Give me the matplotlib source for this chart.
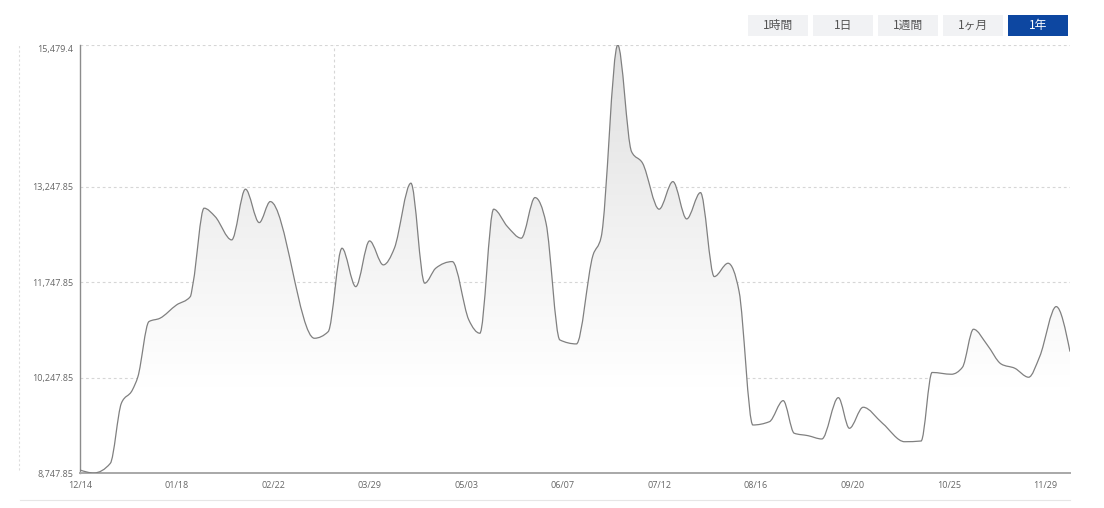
import matplotlib
matplotlib.use('Agg')
import matplotlib.pyplot as plt
import numpy as np
from matplotlib.path import Path
from matplotlib.patches import PathPatch, Rectangle
from matplotlib.lines import Line2D
from matplotlib.colors import LinearSegmentedColormap

plt.rcParams['font.family'] = ['Open Sans', 'Noto Sans CJK JP', 'DejaVu Sans']

# days since 12/14, index value
days = [0, 5, 11, 15, 19, 21, 25, 29, 35, 40, 41, 45, 49, 55, 60, 65, 69,
        85, 90, 95, 100, 105, 110, 114, 120, 125, 129, 135, 141, 145,
        150, 155, 160, 165, 169, 174, 180, 186, 189, 195, 200, 204, 210,
        215, 220, 225, 230, 235, 239, 244, 250, 255, 259, 264, 269, 275,
        279, 284, 291, 299, 305, 309, 316, 320, 324, 329, 334, 339, 344,
        348, 354, 359]
values = [8795, 8747.85, 8900, 9845, 10054, 10263, 11129, 11182, 11391, 11522,
          11733, 12913, 12781, 12414, 13212, 12686, 13017,
          10867, 10971, 12283, 11679, 12398, 12021, 12283, 13306, 11733,
          11969, 12073, 11155, 10946,
          12897, 12623, 12441, 13080, 12677, 10841, 10778, 12170, 12461,
          15479.4, 13803, 13621, 12897,
          13331, 12744, 13158, 11837, 12047, 11604, 9503, 9555, 9886, 9373,
          9335, 9283, 9933,
          9451, 9782, 9530, 9240, 9251, 10329, 10301, 10411, 11009, 10762,
          10463, 10395, 10254,
          10578, 11365, 10657]

y_ticks = [8747.85, 10247.85, 11747.85, 13247.85, 15479.4]
y_labels = ['8,747.85', '10,247.85', '11,747.85', '13,247.85', '15,479.4']
x_ticks = [0, 35, 70, 105, 140, 175, 210, 245, 280, 315, 350]
x_labels = ['12/14', '01/18', '02/22', '03/29', '05/03', '06/07', '07/12',
            '08/16', '09/20', '10/25', '11/29']
ranges = ['1時間', '1日', '1週間', '1ヶ月', '1年']
selected = '1年'
crosshair_day = 92

W, H = 1104, 508
fig = plt.figure(figsize=(W / 100, H / 100), dpi=100)
ax = fig.add_axes([80 / W, 1 - 473 / H, 990 / W, 428 / H])

ymin, ymax = y_ticks[0], y_ticks[-1]
xmax = days[-1]


def monotone_path(xs, ys):
    # monotone cubic (like d3 curveMonotoneX) drawn as bezier segments
    x = np.asarray(xs, float)
    y = np.asarray(ys, float)
    h = np.diff(x)
    s = np.diff(y) / h
    n = len(x)
    t = np.zeros(n)
    for i in range(1, n - 1):
        p = (s[i - 1] * h[i] + s[i] * h[i - 1]) / (h[i - 1] + h[i])
        t[i] = (np.sign(s[i - 1]) + np.sign(s[i])) * min(
            abs(s[i - 1]), abs(s[i]), 0.5 * abs(p))
    t[0] = (3 * s[0] - t[1]) / 2
    t[-1] = (3 * s[-1] - t[-2]) / 2
    verts = [(x[0], y[0])]
    codes = [Path.MOVETO]
    for i in range(n - 1):
        d = h[i] / 3
        verts += [(x[i] + d, y[i] + t[i] * d),
                  (x[i + 1] - d, y[i + 1] - t[i + 1] * d),
                  (x[i + 1], y[i + 1])]
        codes += [Path.CURVE4] * 3
    return verts, codes


verts, codes = monotone_path(days, values)

# gradient area under the line
fill_verts = verts + [(days[-1], ymin), (days[0], ymin), verts[0]]
fill_codes = codes + [Path.LINETO, Path.LINETO, Path.CLOSEPOLY]
fill_patch = PathPatch(Path(fill_verts, fill_codes), facecolor='none',
                       edgecolor='none')
ax.add_patch(fill_patch)
cmap = LinearSegmentedColormap.from_list(
    'g', [(0, '#ffffff'), (0.2, '#ffffff'), (0.5, '#f4f4f4'), (1, '#e0e0e0')])
grad = np.linspace(0, 1, 256).reshape(-1, 1)
img = ax.imshow(grad, extent=[0, xmax, ymin, ymax], origin='lower',
                aspect='auto', cmap=cmap, zorder=1)
img.set_clip_path(fill_patch)

line_patch = PathPatch(Path(verts, codes), facecolor='none',
                       edgecolor='#808080', lw=0.9, zorder=3)
ax.add_patch(line_patch)

ax.set_xlim(0, xmax)
ax.set_ylim(ymin, ymax)

for yv in y_ticks[1:]:
    ax.axhline(yv, color='#d6d6d6', lw=0.8, ls=(0, (2.5, 2.5)), zorder=0)
ax.axvline(crosshair_day, color='#d6d6d6', lw=0.8, ls=(0, (2.5, 2.5)), zorder=0)

ax.set_yticks(y_ticks)
ax.set_yticklabels(y_labels)
ax.set_xticks(x_ticks)
ax.set_xticklabels(x_labels)
ax.tick_params(length=0, labelsize=6.5, labelcolor='#666666')
ax.tick_params(axis='y', pad=5)
ax.tick_params(axis='x', pad=6)
ax.yaxis.get_major_ticks()[-1].label1.set_verticalalignment('top')

for s in ['top', 'right']:
    ax.spines[s].set_visible(False)
ax.spines['left'].set_color('#8c8c8c')
ax.spines['left'].set_linewidth(1.0)
ax.spines['bottom'].set_color('#a8a8a8')
ax.spines['bottom'].set_linewidth(1.4)

# outer frame lines
fig.add_artist(Line2D([19 / W, 19 / W], [1 - 470 / H, 1 - 45 / H],
                      color='#dddddd', lw=0.8, ls=(0, (2, 2))))
fig.add_artist(Line2D([20 / W, 1070 / W], [1 - 500 / H, 1 - 500 / H],
                      color='#e6e6e6', lw=0.8))

# range buttons
bx = [748, 813, 878, 943, 1008]
for x0, name in zip(bx, ranges):
    on = name == selected
    fig.add_artist(Rectangle((x0 / W, 1 - 36 / H), 60 / W, 21 / H,
                             transform=fig.transFigure,
                             facecolor='#0d47a1' if on else '#f1f2f4',
                             edgecolor='none'))
    fig.text((x0 + 30) / W, 1 - 25.5 / H, name, ha='center', va='center',
             fontsize=8.5, color='white' if on else '#555555',
             family=['Noto Sans CJK JP', 'DejaVu Sans'])

fig.savefig('out.png', dpi=100)
